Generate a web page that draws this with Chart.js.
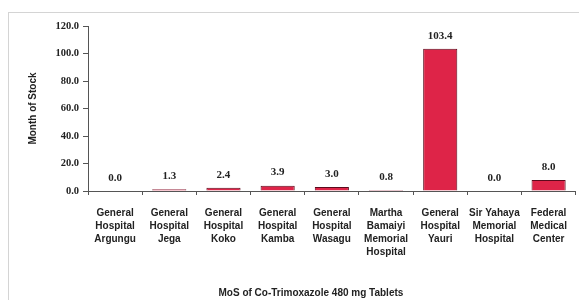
<!DOCTYPE html>
<html>
<head>
<meta charset="utf-8">
<script src="https://cdn.jsdelivr.net/npm/chart.js@4"></script>
<style>
  html, body { margin: 0; padding: 0; background: #fff; overflow: hidden; }
  #wrap { position: relative; width: 579px; height: 300px; }
  #frame {
    position: absolute; left: 8px; top: 12px; width: 700px; height: 400px;
    border-left: 1px solid #d4d4d4; border-top: 1px solid #d4d4d4;
  }
  canvas { position: absolute; left: 0; top: 0; }
</style>
</head>
<body>
<div id="wrap">
  <div id="frame"></div>
  <canvas id="mos" width="579" height="300"></canvas>
</div>
<script>
const facilities = [
  ["General", "Hospital", "Argungu"],
  ["General", "Hospital", "Jega"],
  ["General", "Hospital", "Koko"],
  ["General", "Hospital", "Kamba"],
  ["General", "Hospital", "Wasagu"],
  ["Martha", "Bamaiyi", "Memorial", "Hospital"],
  ["General", "Hospital", "Yauri"],
  ["Sir Yahaya", "Memorial", "Hospital"],
  ["Federal", "Medical", "Center"]
];
const monthsOfStock = [0.0, 1.3, 2.4, 3.9, 3.0, 0.8, 103.4, 0.0, 8.0];
const yTicks = [0, 20, 40, 60, 80, 100, 120];
const yTitle = "Month of Stock";
const xTitle = "MoS of Co-Trimoxazole 480 mg Tablets";

const serifBold = { family: "'Liberation Serif', 'Times New Roman', serif", size: 10.5, weight: "bold" };
const sansBold = { family: "'Liberation Sans', Arial, sans-serif", size: 10, weight: "bold" };

const valueLabels = {
  id: "valueLabels",
  afterDatasetsDraw(chart) {
    const ctx = chart.ctx;
    const meta = chart.getDatasetMeta(0);
    ctx.save();
    ctx.font = "bold 11px 'Liberation Serif', serif";
    ctx.fillStyle = "#222";
    ctx.textAlign = "center";
    ctx.textBaseline = "middle";
    meta.data.forEach((bar, i) => {
      ctx.fillText(monthsOfStock[i].toFixed(1), bar.x, bar.y - 13);
    });
    ctx.restore();
  }
};

const bottomTitle = {
  id: "bottomTitle",
  afterDraw(chart) {
    const ctx = chart.ctx;
    ctx.save();
    ctx.font = "bold 10px 'Liberation Sans', Arial, sans-serif";
    ctx.fillStyle = "#222";
    ctx.textAlign = "center";
    ctx.textBaseline = "middle";
    ctx.fillText(xTitle, chart.width * 0.537, chart.height - 7);
    ctx.restore();
  }
};

new Chart(document.getElementById("mos"), {
  type: "bar",
  data: {
    labels: facilities,
    datasets: [{
      data: monthsOfStock,
      backgroundColor: "#de2448",
      borderColor: "#5c0a1c",
      borderWidth: 1,
      categoryPercentage: 1,
      barPercentage: 0.63
    }]
  },
  options: {
    responsive: false,
    animation: false,
    layout: { padding: { top: 26, right: 1, left: 0, bottom: 0 } },
    plugins: { legend: { display: false }, tooltip: { enabled: false } },
    scales: {
      x: {
        afterFit: (s) => { s.height = 109; },
        border: { color: "#555", width: 1 },
        grid: { drawOnChartArea: false, tickLength: 4, color: "#555" },
        ticks: {
          color: "#222",
          font: { ...sansBold, lineHeight: 1.3 },
          padding: 12,
          maxRotation: 0,
          autoSkip: false
        }
      },
      y: {
        min: 0,
        max: 120,
        afterFit: (s) => { s.width = 88; },
        afterBuildTicks: (s) => { s.ticks = yTicks.map((v) => ({ value: v })); },
        border: { color: "#555", width: 1 },
        grid: { drawOnChartArea: false, tickLength: 5, color: "#555" },
        ticks: {
          color: "#222",
          font: serifBold,
          padding: 4,
          callback: (v) => Number(v).toFixed(1)
        },
        title: {
          display: true,
          text: yTitle,
          color: "#222",
          font: sansBold,
          padding: { top: 27, bottom: 0 }
        }
      }
    }
  },
  plugins: [valueLabels, bottomTitle]
});
</script>
</body>
</html>
